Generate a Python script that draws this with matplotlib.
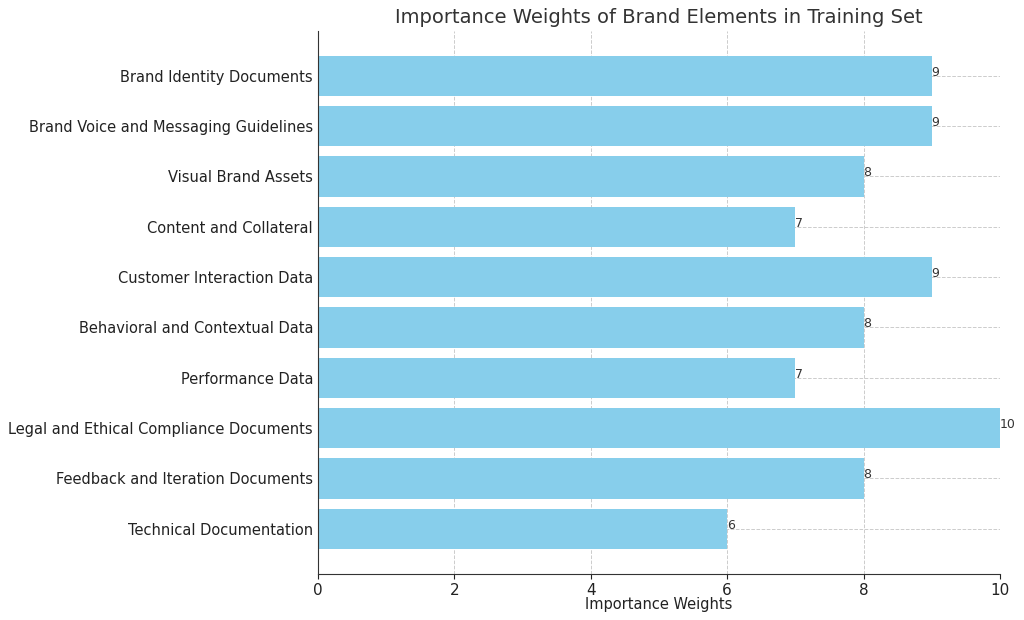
import matplotlib
matplotlib.use("Agg")
import matplotlib.pyplot as plt

categories = [
    "Brand Identity Documents",
    "Brand Voice and Messaging Guidelines",
    "Visual Brand Assets",
    "Content and Collateral",
    "Customer Interaction Data",
    "Behavioral and Contextual Data",
    "Performance Data",
    "Legal and Ethical Compliance Documents",
    "Feedback and Iteration Documents",
    "Technical Documentation",
]
weights = [9, 9, 8, 7, 9, 8, 7, 10, 8, 6]

fig = plt.figure(figsize=(10.24, 6.2), dpi=100)
ax = fig.add_axes([0.3105, 0.075, 0.666, 0.875])
ax.set_axisbelow(True)
ax.grid(True, linestyle="--", color="#cccccc", linewidth=0.7)
bars = ax.barh(categories, weights, color="skyblue")
ax.invert_yaxis()
for b, w in zip(bars, weights):
    ax.text(w, b.get_y() + b.get_height() / 2, str(w), fontsize=9, color="#333333")
ax.set_xlim(0, 10)
ax.set_xlabel("Importance Weights", fontsize=10.5, color="#222222", labelpad=-1)
ax.set_title("Importance Weights of Brand Elements in Training Set", fontsize=14, color="#333333")
ax.tick_params(axis="both", labelsize=10.5, colors="#222222")
ax.tick_params(axis="x", labelsize=11)
ax.tick_params(axis="y", length=0)
for s in ["top", "right"]:
    ax.spines[s].set_visible(False)
ax.spines["left"].set_color("#333333")
ax.spines["bottom"].set_color("#333333")
fig.savefig("out.png", dpi=100)
